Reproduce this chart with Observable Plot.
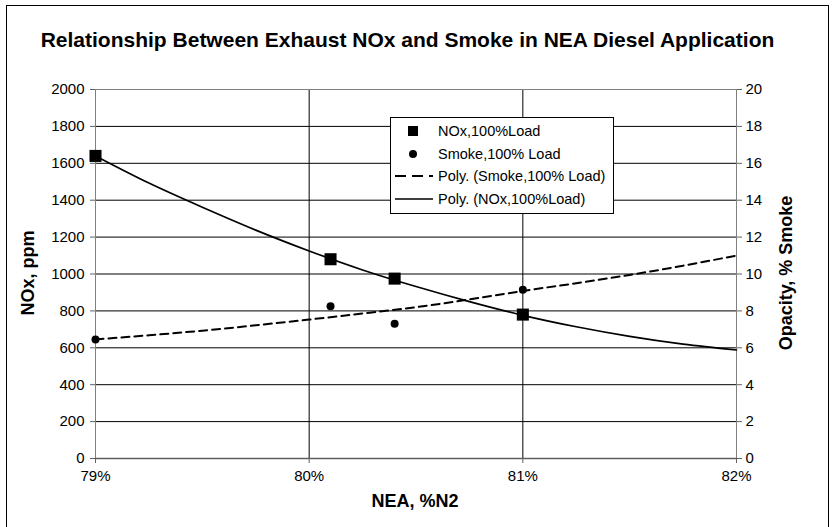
<!DOCTYPE html>
<html><head><meta charset="utf-8">
<script src="https://cdn.jsdelivr.net/npm/d3@7"></script>
<script src="https://cdn.jsdelivr.net/npm/@observablehq/plot@0.6"></script>
<style>
body{margin:0;background:#fff;font-family:"Liberation Sans",Arial,sans-serif;color:#000;}
#wrap{position:relative;width:833px;height:527px;overflow:hidden;background:#fff;}
#frame{position:absolute;left:6px;top:5px;width:823px;height:560px;border:1px solid #000;box-sizing:border-box;}
#title{position:absolute;left:0;width:815px;top:28px;text-align:center;font-weight:bold;font-size:21px;white-space:nowrap;}
#chart{position:absolute;left:0;top:0;}
.ylab{position:absolute;font-weight:bold;font-size:18px;white-space:nowrap;transform:translate(-50%,-50%) rotate(-90deg);}
#xlab{position:absolute;font-weight:bold;font-size:18px;white-space:nowrap;transform:translate(-50%,-50%);}
#legend{position:absolute;left:390px;top:117px;background:#fff;border:1px solid #000;padding:2px 8px 3px 2px;font-size:14.5px;}
#legend .row{display:flex;align-items:center;height:22.5px;}
#legend svg{width:40px;height:14px;flex:none;margin-right:5px;}
</style></head>
<body>
<div id="wrap">
  <div id="frame"></div>
  <div id="chart"></div>
  <div id="title">Relationship Between Exhaust NOx and Smoke in NEA Diesel Application</div>
  <div class="ylab" style="left:28px;top:273px;">NOx, ppm</div>
  <div class="ylab" style="left:786px;top:273px;">Opacity, % Smoke</div>
  <div id="xlab" style="left:415px;top:501px;">NEA, %N2</div>
  <div id="legend"></div>
</div>
<script>
// Measured points
const nea = [79.0, 80.1, 80.4, 81.0];
const noxPpm = [1640, 1080, 975, 780];
const smokePct = [6.45, 8.25, 7.3, 9.15];

// Trend lines
const trendNea = [79.0, 79.25, 79.5, 79.75, 80.0, 80.25, 80.5, 80.75, 81.0, 81.25, 81.5, 81.75, 82.0];
const noxTrend = [1640, 1493, 1362, 1238, 1125, 1022, 932, 850, 776, 714, 662, 620, 588];
const smokeTrend = [6.45, 6.68, 6.93, 7.22, 7.53, 7.86, 8.2, 8.62, 9.08, 9.5, 9.95, 10.45, 11.0];

const yTicks = [0, 200, 400, 600, 800, 1000, 1200, 1400, 1600, 1800, 2000];
const xTicks = [79, 80, 81, 82];

const legendLabels = ["NOx,100%Load", "Smoke,100% Load", "Poly. (Smoke,100% Load)", "Poly. (NOx,100%Load)"];

const points = nea.map((x, i) => ({x, nox: noxPpm[i], smoke: smokePct[i]}));
const trend = trendNea.map((x, i) => ({x, nox: noxTrend[i], smoke: smokeTrend[i]}));
const SMOKE_TO_NOX = 100; // right axis 0-20 aligned with left axis 0-2000

const chart = Plot.plot({
  width: 833, height: 527,
  marginTop: 89, marginBottom: 69, marginLeft: 95, marginRight: 97,
  x: {domain: [79, 82]},
  y: {domain: [0, 2000]},
  style: {fontFamily: "'Liberation Sans', Arial, sans-serif", fontSize: "15px", color: "#000", background: "transparent"},
  marks: [
    Plot.gridY(yTicks.slice(1, -1), {stroke: "#000", strokeOpacity: 1}),
    Plot.gridX([80, 81], {stroke: "#000", strokeOpacity: 1}),
    Plot.ruleY([2000], {stroke: "#808080"}),
    Plot.ruleY([0], {stroke: "#606060", strokeWidth: 1.5}),
    Plot.ruleX([79, 82], {stroke: "#808080"}),
    Plot.axisY(yTicks, {anchor: "left", tickSize: 5, tickPadding: 6, label: null, tickFormat: d => String(d), stroke: "#606060"}),
    Plot.axisY(yTicks, {anchor: "right", tickSize: 5, tickPadding: 4, label: null, tickFormat: d => String(d / SMOKE_TO_NOX), stroke: "#606060"}),
    Plot.axisX(xTicks, {anchor: "bottom", tickSize: 5, tickPadding: 7, label: null, tickFormat: d => d + "%", stroke: "#606060"}),
    Plot.line(trend, {x: "x", y: d => d.smoke * SMOKE_TO_NOX, stroke: "#000", strokeWidth: 2, strokeDasharray: "8,5", curve: "natural"}),
    Plot.line(trend, {x: "x", y: "nox", stroke: "#000", strokeWidth: 1.7, curve: "natural"}),
    Plot.dot(points, {x: "x", y: "nox", symbol: "square", r: 6.8, fill: "#000", stroke: "none"}),
    Plot.dot(points, {x: "x", y: d => d.smoke * SMOKE_TO_NOX, r: 4, fill: "#000", stroke: "none"})
  ]
});
document.getElementById("chart").appendChild(chart);

const icons = [
  '<rect x="15" y="2" width="10" height="10" fill="#000"/>',
  '<circle cx="20" cy="7" r="4" fill="#000"/>',
  '<line x1="2" y1="7" x2="40" y2="7" stroke="#000" stroke-width="2" stroke-dasharray="11,6"/>',
  '<line x1="2" y1="7" x2="40" y2="7" stroke="#000" stroke-width="1.7"/>'
];
const leg = document.getElementById("legend");
legendLabels.forEach((t, i) => {
  const row = document.createElement("div");
  row.className = "row";
  row.innerHTML = '<svg viewBox="0 0 40 14">' + icons[i] + '</svg><span>' + t + '</span>';
  leg.appendChild(row);
});
</script>
</body></html>
